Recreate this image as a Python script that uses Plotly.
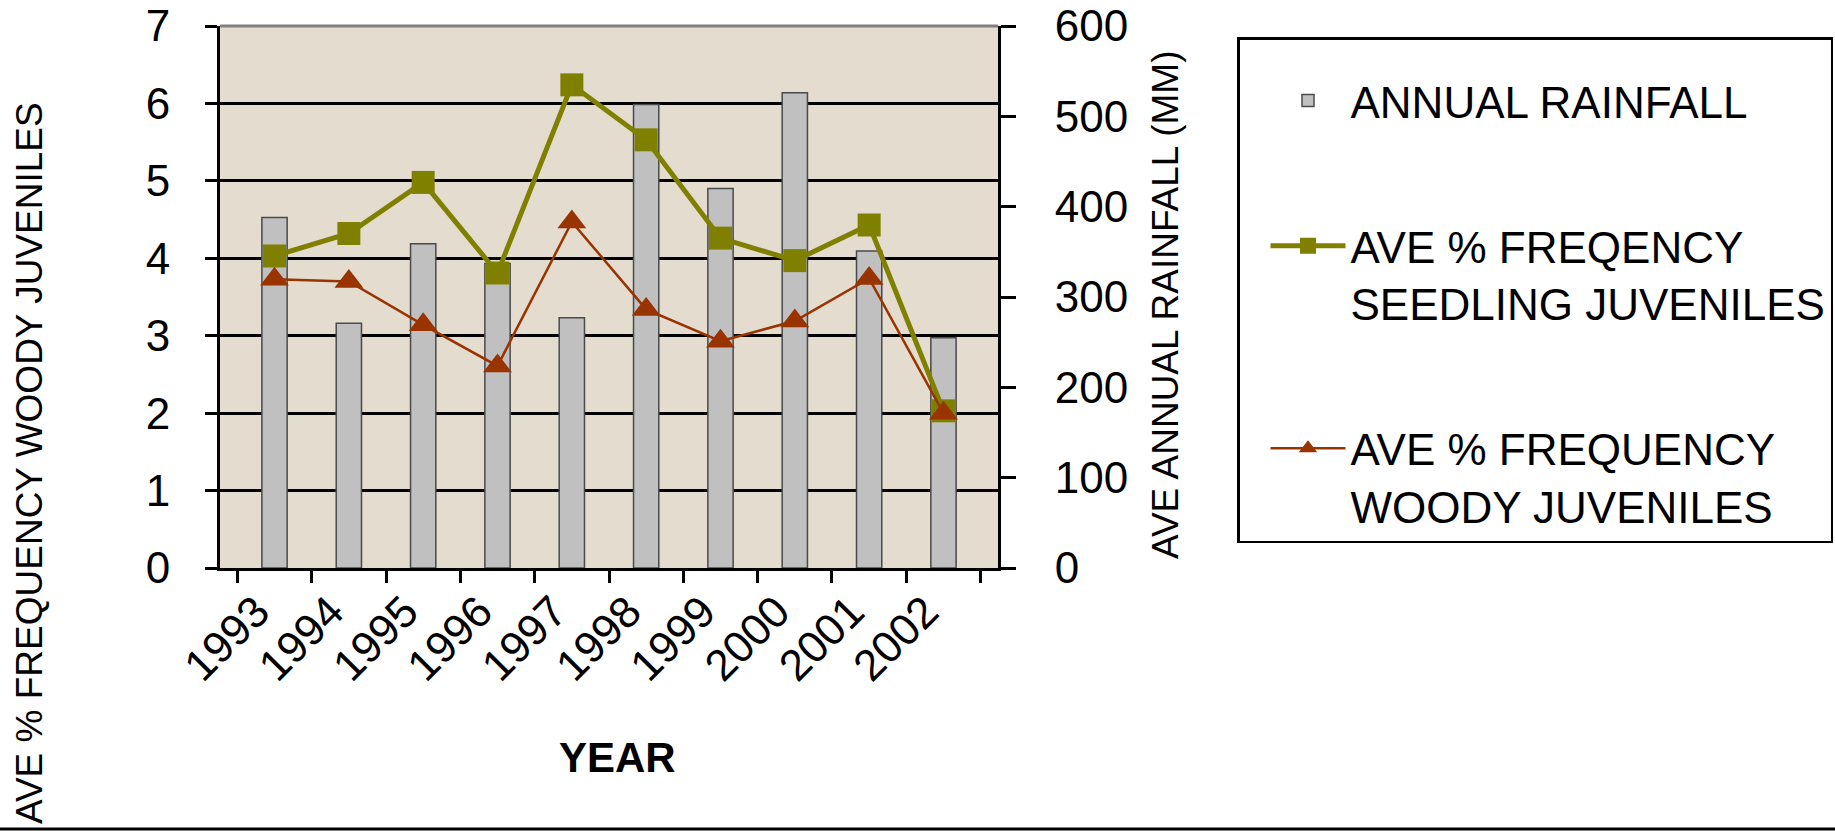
import plotly.graph_objects as go

# ---- data ----
years = ["1993", "1994", "1995", "1996", "1997", "1998", "1999", "2000", "2001", "2002"]
rainfall_mm = [388, 271, 359, 337, 277, 513, 420, 526, 351, 255]
seedling_pct = [4.03, 4.32, 4.98, 3.81, 6.24, 5.53, 4.26, 3.97, 4.43, 2.03]
woody_pct = [3.73, 3.70, 3.14, 2.61, 4.47, 3.34, 2.93, 3.19, 3.74, 2.00]

freq_ticks = [0, 1, 2, 3, 4, 5, 6, 7]
rain_ticks = [0, 100, 200, 300, 400, 500, 600]

FONT = "Liberation Sans, Arial, sans-serif"

# plot area in pixels (reference): x 220..998, y 26..568
W, H = 1835, 831
L, R, T, B = 220, 998, 26, 568
pw, ph = R - L, B - T


def px(xp):
    return (xp - L) / pw


def py(yp):
    return (B - yp) / ph


fig = go.Figure()

fig.add_trace(go.Bar(
    x=years, y=rainfall_mm, name="ANNUAL RAINFALL",
    yaxis="y", width=0.34,
    marker=dict(color="#C0C0C0", line=dict(color="#4a4a4a", width=1.5)),
    legendgroup="a",
))
fig.add_trace(go.Scatter(
    x=years, y=seedling_pct, name="AVE % FREQENCY<br>SEEDLING JUVENILES",
    yaxis="y2", mode="lines+markers",
    line=dict(color="#808000", width=5),
    marker=dict(symbol="square", size=23, color="#808000"),
    legendgroup="b",
))
fig.add_trace(go.Scatter(
    x=years, y=woody_pct, name="AVE % FREQUENCY<br>WOODY JUVENILES",
    yaxis="y2", mode="lines+markers",
    line=dict(color="#993300", width=2.5),
    marker=dict(symbol="triangle-up", size=25, color="#993300"),
    legendgroup="c",
))

fig.update_layout(
    width=W, height=H,
    margin=dict(l=L, r=W - R, t=T, b=H - B, pad=0, autoexpand=False),
    paper_bgcolor="white",
    plot_bgcolor="#E3DCCF",
    font=dict(family=FONT, size=44, color="black"),
    showlegend=True,
    legend=dict(
        x=px(1237), y=py(37), xanchor="left", yanchor="top",
        bgcolor="white", bordercolor="black", borderwidth=2.5,
        font=dict(family=FONT, size=44, color="black"),
        title=dict(text=" ", font=dict(size=20)),
        tracegroupgap=85, itemwidth=75, indentation=26,
        traceorder="grouped", valign="top",
    ),
    xaxis=dict(
        type="category", categoryorder="array", categoryarray=years,
        tickson="boundaries", ticks="outside", ticklen=12, tickwidth=2.5,
        tickcolor="black", showline=True, linecolor="black", linewidth=3,
        tickangle=-45, tickfont=dict(size=44), showgrid=False,
        ticklabelstandoff=-3, ticklabelshift=-18, anchor="y", automargin=False,
    ),
    yaxis=dict(
        side="right", range=[0, 600], tickvals=rain_ticks,
        ticks="outside", ticklen=15, tickwidth=2.5, tickcolor="black",
        showline=True, linecolor="black", linewidth=3, showgrid=False,
        zeroline=False, tickfont=dict(size=44), ticklabelstandoff=30,
        automargin=False,
    ),
    yaxis2=dict(
        overlaying="y", side="left", range=[0, 7], tickvals=freq_ticks,
        ticks="outside", ticklen=12, tickwidth=2.5, tickcolor="black",
        showline=True, linecolor="black", linewidth=3,
        showgrid=True, gridcolor="black", gridwidth=2.5,
        zeroline=False, tickfont=dict(size=44), ticklabelstandoff=26,
        automargin=False,
    ),
    annotations=[
        dict(text="AVE % FREQUENCY WOODY JUVENILES", textangle=-90,
             xref="paper", yref="paper", x=px(29), y=py(463),
             xanchor="center", yanchor="middle", showarrow=False,
             font=dict(family=FONT, size=37, color="black")),
        dict(text="AVE ANNUAL RAINFALL (MM)", textangle=-90,
             xref="paper", yref="paper", x=px(1165), y=py(305),
             xanchor="center", yanchor="middle", showarrow=False,
             font=dict(family=FONT, size=37, color="black")),
        dict(text="<b>YEAR</b>",
             xref="paper", yref="paper", x=px(617), y=py(757),
             xanchor="center", yanchor="middle", showarrow=False,
             font=dict(family=FONT, size=42, color="black")),
    ],
    shapes=[
        dict(type="line", xref="paper", yref="paper", x0=0, x1=1, y0=1, y1=1,
             line=dict(color="#808080", width=3)),
        dict(type="line", xref="paper", yref="paper", x0=px(0), x1=px(W),
             y0=py(829), y1=py(829), line=dict(color="black", width=3)),
    ],
)

fig.write_html(
    "out.html",
    config={"displayModeBar": False},
    post_script="document.body.style.margin='0';document.body.style.overflow='hidden';",
)
